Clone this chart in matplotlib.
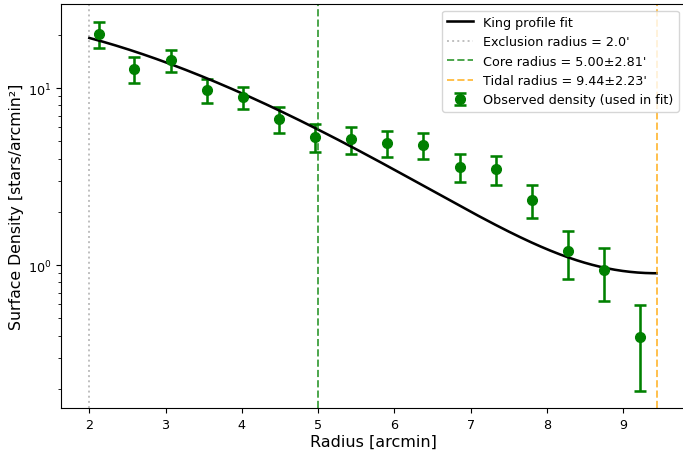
import numpy as np
import matplotlib.pyplot as plt

# Radial surface density profile (bins outside the exclusion radius)
radius = [2.12, 2.59, 3.07, 3.54, 4.01, 4.49, 4.96, 5.43,
          5.91, 6.38, 6.86, 7.33, 7.80, 8.28, 8.75, 9.22]
density = [20.2, 12.8, 14.4, 9.7, 8.9, 6.7, 5.3, 5.15,
           4.9, 4.8, 3.6, 3.5, 2.33, 1.2, 0.94, 0.395]
density_err = [3.3, 2.1, 2.0, 1.5, 1.3, 1.1, 0.95, 0.9,
               0.8, 0.8, 0.65, 0.65, 0.49, 0.36, 0.31, 0.2]

# King (1962) fit parameters
k_central = 86.3
r_core, r_core_err = 5.00, 2.81
r_tidal, r_tidal_err = 9.44, 2.23
background = 0.9
r_excl = 2.0


def king(r, k, rc, rt, bg):
    term = 1 / np.sqrt(1 + (r / rc) ** 2) - 1 / np.sqrt(1 + (rt / rc) ** 2)
    return k * term ** 2 + bg


fig = plt.figure(figsize=(6.83, 4.52), dpi=100)
ax = fig.add_axes([0.0893, 0.0951, 0.9136, 0.893])

ax.errorbar(radius, density, yerr=density_err, fmt='o', color='green',
            markersize=7, capsize=4.6, elinewidth=1.85, capthick=1.85,
            label='Observed density (used in fit)')

r_fit = np.linspace(r_excl, r_tidal, 300)
ax.plot(r_fit, king(r_fit, k_central, r_core, r_tidal, background),
        color='black', lw=1.85, label='King profile fit')

ax.axvline(r_excl, color='gray', ls=':', lw=1.4, alpha=0.5,
           label=f"Exclusion radius = {r_excl:.1f}'")
ax.axvline(r_core, color='green', ls='--', lw=1.4, alpha=0.7,
           label=f"Core radius = {r_core:.2f}\u00b1{r_core_err:.2f}'")
ax.axvline(r_tidal, color='orange', ls='--', lw=1.4, alpha=0.7,
           label=f"Tidal radius = {r_tidal:.2f}\u00b1{r_tidal_err:.2f}'")

ax.set_yscale('log')
ax.set_xlim(1.628, 9.812)
ax.set_ylim(0.156, 29.7)
ax.set_xlabel('Radius [arcmin]', fontsize=11.5, labelpad=2)
ax.set_ylabel('Surface Density [stars/arcmin\u00b2]', fontsize=11.3, labelpad=3)
ax.tick_params(labelsize=9.2)
ax.legend(loc='upper right', fontsize=9.2)

plt.savefig('out.png', dpi=100)
